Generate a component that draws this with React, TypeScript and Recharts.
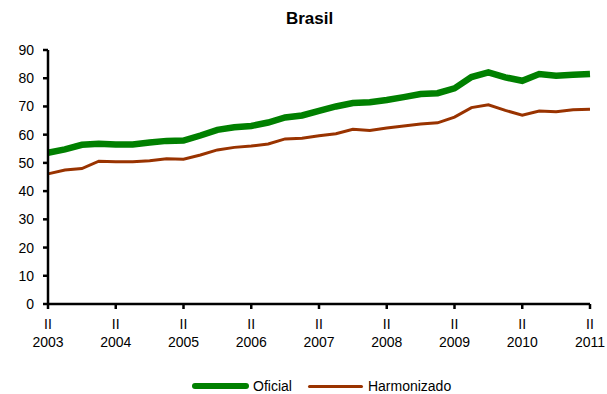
import React from 'react';
import { LineChart, Line, XAxis, YAxis, Legend } from 'recharts';

const quarters = [
  'II 2003', 'III 2003', 'IV 2003', 'I 2004',
  'II 2004', 'III 2004', 'IV 2004', 'I 2005',
  'II 2005', 'III 2005', 'IV 2005', 'I 2006',
  'II 2006', 'III 2006', 'IV 2006', 'I 2007',
  'II 2007', 'III 2007', 'IV 2007', 'I 2008',
  'II 2008', 'III 2008', 'IV 2008', 'I 2009',
  'II 2009', 'III 2009', 'IV 2009', 'I 2010',
  'II 2010', 'III 2010', 'IV 2010', 'I 2011',
  'II 2011',
];

const oficial = [
  53.6, 54.8, 56.4, 56.8, 56.5, 56.5, 57.2, 57.8,
  57.9, 59.7, 61.7, 62.6, 63.1, 64.3, 66.1, 66.8,
  68.4, 70.0, 71.2, 71.5, 72.3, 73.3, 74.4, 74.7,
  76.4, 80.4, 82.1, 80.3, 79.1, 81.5, 80.9, 81.2,
  81.5,
];

const harmonizado = [
  46.1, 47.5, 48.0, 50.6, 50.4, 50.4, 50.8, 51.5,
  51.3, 52.8, 54.6, 55.5, 56.0, 56.7, 58.5, 58.7,
  59.6, 60.3, 61.9, 61.5, 62.4, 63.1, 63.8, 64.2,
  66.2, 69.6, 70.6, 68.6, 66.9, 68.4, 68.1, 68.8,
  69.0,
];

const yTicks = [0, 10, 20, 30, 40, 50, 60, 70, 80, 90];

const data = quarters.map((q, i) => ({ q, oficial: oficial[i], harmonizado: harmonizado[i] }));

const FONT = '"Liberation Sans", Arial, sans-serif';

const QuarterTick = (props: any) => {
  const { x, y, payload } = props;
  const [quarter, year] = String(payload.value).split(' ');
  return (
    <g transform={`translate(${x},${y})`}>
      <text x={0} y={0} dy={18} textAnchor="middle" fontSize={14} fill="#000" fontFamily={FONT}>{quarter}</text>
      <text x={0} y={0} dy={36} textAnchor="middle" fontSize={14} fill="#000" fontFamily={FONT}>{year}</text>
    </g>
  );
};

const LegendContent = () => (
  <div style={{ display: 'flex', alignItems: 'center', marginLeft: 192, height: 18, fontFamily: FONT, fontSize: 14, color: '#000' }}>
    <span style={{ display: 'inline-block', width: 57, height: 6, borderRadius: 3, background: '#008000', marginRight: 4 }} />
    <span style={{ marginRight: 16 }}>Oficial</span>
    <span style={{ display: 'inline-block', width: 55, height: 3, borderRadius: 2, background: '#993300', marginRight: 5 }} />
    <span>Harmonizado</span>
  </div>
);

export default function App() {
  return (
    <div style={{ position: 'absolute', left: 0, top: 0, width: 607, height: 394, background: '#fff' }}>
      <div style={{ position: 'absolute', top: 9, left: 0, width: 619, textAlign: 'center', fontFamily: FONT, fontWeight: 'bold', fontSize: 17 }}>
        Brasil
      </div>
      <LineChart width={607} height={394} data={data} margin={{ top: 50, right: 17, left: 0, bottom: 16 }}>
        <XAxis
          dataKey="q"
          interval={3}
          tick={<QuarterTick />}
          tickSize={5}
          height={50}
          axisLine={{ stroke: '#000', strokeWidth: 2.5 }}
          tickLine={{ stroke: '#000', strokeWidth: 2.5 }}
        />
        <YAxis
          domain={[0, 90]}
          ticks={yTicks}
          width={48}
          tickSize={5}
          tickMargin={9}
          interval={0}
          tick={{ fontSize: 14, fill: '#000', fontFamily: FONT }}
          axisLine={{ stroke: '#000', strokeWidth: 2.5 }}
          tickLine={{ stroke: '#000', strokeWidth: 2.5 }}
        />
        <Legend verticalAlign="bottom" height={24} content={<LegendContent />} wrapperStyle={{ top: 377, left: 0, width: 607, bottom: 'auto' }} />
        <Line type="linear" dataKey="oficial" name="Oficial" stroke="#008000" strokeWidth={6.5} dot={false} isAnimationActive={false} />
        <Line type="linear" dataKey="harmonizado" name="Harmonizado" stroke="#993300" strokeWidth={3} dot={false} isAnimationActive={false} />
      </LineChart>
    </div>
  );
}
